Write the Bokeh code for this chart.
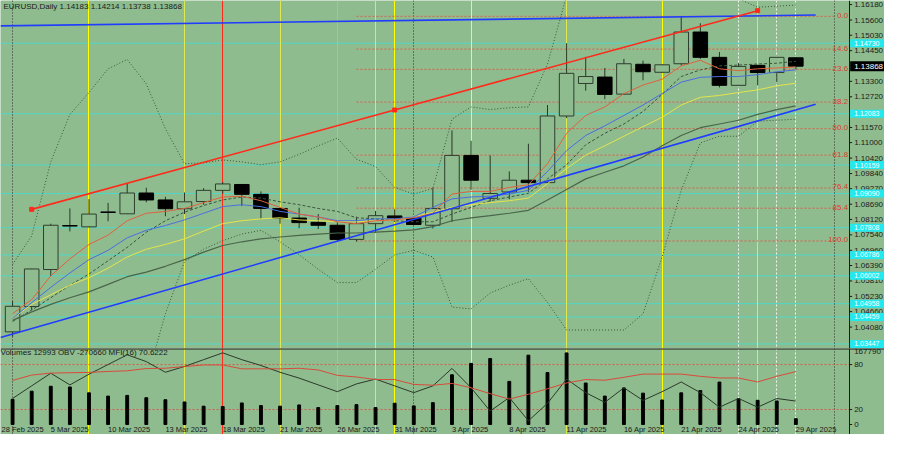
from bokeh.plotting import figure
from bokeh.layouts import column
from bokeh.models import Range1d, Span
from bokeh.core.properties import value
from bokeh.embed import file_html
from bokeh.resources import INLINE

BG = "#8fbc8f"
FONT = "Liberation Sans"
DARK = "#1a1a1a"

# ---------------- data ----------------
bars = list(range(42))
opens = [1.0390, 1.0485, 1.0624, 1.0789, 1.0784, 1.0840, 1.0833, 1.0911, 1.0885, 1.0852,
         1.0879, 1.0921, 1.0943, 1.0906, 1.0853, 1.0817, 1.0801, 1.0790, 1.0737, 1.0796,
         1.0825, 1.0817, 1.0790, 1.0852, 1.1052, 1.0891, 1.0915, 1.0959, 1.0950, 1.1200,
         1.1322, 1.1346, 1.1282, 1.1394, 1.1364, 1.1396, 1.1515, 1.1420, 1.1315, 1.1390,
         1.1363, 1.14183]
highs = [1.0505, 1.0627, 1.0796, 1.0853, 1.0888, 1.0874, 1.0945, 1.0931, 1.0897, 1.0913,
         1.0929, 1.0952, 1.0945, 1.0917, 1.0856, 1.0856, 1.0832, 1.0804, 1.0822, 1.0844,
         1.0850, 1.0820, 1.0931, 1.1146, 1.1107, 1.1052, 1.0992, 1.1096, 1.1241, 1.1473,
         1.1422, 1.1380, 1.1414, 1.1408, 1.1394, 1.1574, 1.1548, 1.1440, 1.1398, 1.1392,
         1.1422, 1.14214]
lows = [1.0372, 1.0472, 1.0600, 1.0767, 1.0782, 1.0805, 1.0832, 1.0876, 1.0824, 1.0832,
        1.0867, 1.0909, 1.0862, 1.0814, 1.0796, 1.0779, 1.0776, 1.0731, 1.0729, 1.0761,
        1.0802, 1.0791, 1.0778, 1.0802, 1.0923, 1.0879, 1.0888, 1.0915, 1.0948, 1.1192,
        1.1295, 1.1263, 1.1280, 1.1334, 1.1362, 1.1390, 1.1414, 1.1307, 1.1313, 1.1315,
        1.1327, 1.13738]
closes = [1.0486, 1.0626, 1.0790, 1.0787, 1.0832, 1.0838, 1.0911, 1.0885, 1.0852, 1.0878,
          1.0921, 1.0945, 1.0906, 1.0853, 1.0817, 1.0800, 1.0790, 1.0737, 1.0796, 1.0826,
          1.0817, 1.0793, 1.0853, 1.1052, 1.0959, 1.0909, 1.0959, 1.0950, 1.1200, 1.1360,
          1.1348, 1.1281, 1.1396, 1.1366, 1.1392, 1.1515, 1.1420, 1.1315, 1.1386, 1.1363,
          1.1420, 1.13868]

ma_red = [1.0458, 1.0511, 1.0600, 1.0664, 1.0718, 1.0753, 1.0807, 1.0835, 1.0842, 1.0853,
          1.0875, 1.0896, 1.0899, 1.0882, 1.0857, 1.0832, 1.0821, 1.0803, 1.0796, 1.0807,
          1.0810, 1.0818, 1.0835, 1.0907, 1.0917, 1.0917, 1.0932, 1.0942, 1.1021, 1.1135,
          1.1202, 1.1234, 1.1284, 1.1316, 1.1338, 1.1388, 1.1409, 1.1377, 1.1370, 1.1377,
          1.1380, 1.1384]
ma_blue = [1.0440, 1.0500, 1.0557, 1.0611, 1.0661, 1.0696, 1.0743, 1.0771, 1.0789, 1.0810,
           1.0835, 1.0860, 1.0867, 1.0860, 1.0842, 1.0832, 1.0821, 1.0807, 1.0807, 1.0814,
           1.0814, 1.0821, 1.0857, 1.0889, 1.0896, 1.0899, 1.0907, 1.0921, 1.0992, 1.1070,
           1.1127, 1.1163, 1.1202, 1.1241, 1.1284, 1.1327, 1.1345, 1.1348, 1.1348, 1.1355,
           1.1366, 1.1373]
ma_yellow = [1.0440, 1.0493, 1.0529, 1.0565, 1.0593, 1.0629, 1.0671, 1.0700, 1.0718, 1.0739,
             1.0768, 1.0796, 1.0807, 1.0814, 1.0818, 1.0810, 1.0807, 1.0803, 1.0803, 1.0807,
             1.0810, 1.0821, 1.0839, 1.0857, 1.0867, 1.0875, 1.0882, 1.0892, 1.0946, 1.1003,
             1.1053, 1.1088, 1.1124, 1.1160, 1.1195, 1.1241, 1.1270, 1.1277, 1.1288, 1.1298,
             1.1313, 1.1323]
ma_grey = [1.0433, 1.0465, 1.0493, 1.0518, 1.0540, 1.0568, 1.0597, 1.0614, 1.0636, 1.0661,
           1.0689, 1.0714, 1.0728, 1.0739, 1.0746, 1.0752, 1.0757, 1.0761, 1.0761, 1.0764,
           1.0768, 1.0773, 1.0785, 1.0807, 1.0818, 1.0826, 1.0835, 1.0846, 1.0885, 1.0924,
           1.0964, 1.0989, 1.1013, 1.1046, 1.1088, 1.1127, 1.1156, 1.1170, 1.1184, 1.1206,
           1.1224, 1.1238]
bb_mid = [1.0429, 1.0472, 1.0518, 1.0565, 1.0607, 1.0657, 1.0707, 1.0764, 1.0807, 1.0839,
          1.0864, 1.0885, 1.0896, 1.0892, 1.0878, 1.0867, 1.0853, 1.0842, 1.0818, 1.0814,
          1.0807, 1.0803, 1.0803, 1.0832, 1.0857, 1.0882, 1.0896, 1.0910, 1.0964, 1.1017,
          1.1092, 1.1135, 1.1170, 1.1217, 1.1281, 1.1348, 1.1373, 1.1388, 1.1391, 1.1395,
          1.1398, 1.1405]
bb_upper = [1.0643, 1.0750, 1.1028, 1.1206, 1.1288, 1.1377, 1.1412, 1.1320, 1.1152, 1.1021,
            1.1024, 1.1035, 1.1028, 1.1017, 1.1028, 1.1056, 1.1088, 1.1117, 1.1038, 1.1010,
            1.0932, 1.0907, 1.0928, 1.1188, 1.1234, 1.1224, 1.1231, 1.1234, 1.1395, 1.1651,
            1.1787, 1.1872, 1.1943, 1.1975, 1.1890, 1.1776, 1.1651, 1.1651, 1.1640, 1.1608,
            1.1612, 1.1616]
bb_lower = [1.0215, 1.0194, 1.0009, 0.9923, 0.9927, 0.9938, 1.0002, 1.0208, 1.0458, 1.0654,
            1.0700, 1.0732, 1.0757, 1.0771, 1.0728, 1.0679, 1.0625, 1.0575, 1.0575, 1.0625,
            1.0679, 1.0696, 1.0671, 1.0483, 1.0476, 1.0536, 1.0565, 1.0590, 1.0500, 1.0397,
            1.0397, 1.0397, 1.0397, 1.0458, 1.0671, 1.0921, 1.1099, 1.1124, 1.1124, 1.1181,
            1.1184, 1.1188]

volumes = [56000, 74090, 84980, 83460, 70380, 63190, 64720, 59490, 55130, 50120,
           40750, 39880, 47940, 42060, 40750, 43580, 37700, 42060, 44240, 37700,
           47290, 41400, 48590, 110480, 135760, 146650, 95880, 154060, 115490, 159070,
           92180, 63190, 81280, 69730, 54480, 70380, 75610, 94350, 57310, 53820,
           52300, 12993]
obv = [-253380, -170180, -86980, -163780, -93380, -29380, 34620, -10180, -80580, -42180,
       2620, 47420, 2620, -35780, -80580, -118980, -163780, -208580, -157380, -125380,
       -170180, -214980, -170180, -54980, -182980, -336580, -246980, -400580, -285380, -125380,
       -214980, -278980, -182980, -266180, -208580, -144580, -214980, -310980, -253380, -310980,
       -253380, -270660]
mfi = [58.8, 66.0, 68.6, 69.1, 69.5, 70.8, 71.7, 74.7, 75.1, 77.3,
       79.5, 79.5, 74.3, 74.3, 74.3, 75.1, 72.8, 65.6, 63.4, 60.0,
       60.0, 53.5, 52.5, 54.8, 49.0, 41.2, 33.9, 40.4, 47.7, 55.5,
       60.0, 59.1, 63.0, 67.3, 67.3, 67.3, 64.3, 62.1, 62.1, 56.8,
       64.3, 70.6222]

header_main = "EURUSD,Daily  1.14183 1.14214 1.13738 1.13868"
header_sub = "Volumes 12993  OBV -270660  MFI(16) 70.6222"

price_ticks = [1.16180, 1.15600, 1.15030, 1.14450, 1.13300, 1.12720, 1.11570, 1.11000,
               1.10420, 1.09840, 1.09270, 1.08690, 1.08120, 1.07540, 1.06960, 1.06390,
               1.05810, 1.05230, 1.04660, 1.04080]
cyan_levels = [1.14730, 1.12083, 1.10159, 1.09090, 1.07808, 1.06786, 1.06002, 1.04958,
               1.04459, 1.03447]
last_price = 1.13868

fib_levels = [0.0, 14.6, 23.6, 38.2, 50.0, 61.8, 76.4, 85.4, 100.0]
fib_high, fib_low = 1.1574, 1.0731
fib_start_bar, fib_end_bar = 18, 43

red_channel_bars = [1, 20, 39]
red_channel_prices = [1.08496, 1.12224, 1.15952]
blue_top_bars = [-0.632, 42.04]
blue_top_prices = [1.15382, 1.15788]
blue_sup_bars = [-0.632, 42.04]
blue_sup_prices = [1.03686, 1.12439]

vl_yellow_bright = [4, 20, 24, 34]
vl_yellow_pale = [9, 14, 19, 29, 39]
vl_red = [11]
vl_cyan = [17]
vl_dark_dotted = [0, 21, 43]
vl_white_dotted = [38, 40, 41]

date_bars = [-1, 2, 5, 8, 11, 14, 17, 20, 23, 26, 29, 32, 35, 38, 41]
date_labels = ["28 Feb 2025", "5 Mar 2025", "10 Mar 2025", "13 Mar 2025", "18 Mar 2025",
               "21 Mar 2025", "26 Mar 2025", "31 Mar 2025", "3 Apr 2025", "8 Apr 2025",
               "11 Apr 2025", "16 Apr 2025", "21 Apr 2025", "24 Apr 2025", "29 Apr 2025"]

mfi_levels = [20, 80]
mfi_ticks = [0, 20, 80]
vol_axis_max = 167790

# ---------------- scales ----------------
X0, XA, XR = -0.632, 43.79, 45.64       # left edge, price-axis line, right edge (bar units)
PX = 1.0 / 19.11                        # one screen pixel in bar units
xr = Range1d(X0, XR)
P_LO, P_HI = 1.03276, 1.16333
M_LO, M_HI = -13.3, 101.43
k_vol = vol_axis_max / 100.78


def base_fig(h, yr):
    p = figure(width=884, height=h, x_range=xr, y_range=yr, output_backend="svg",
               toolbar_location=None, x_axis_location=None, y_axis_location=None,
               min_border_left=0, min_border_right=0, min_border_top=0,
               min_border_bottom=0, background_fill_color=BG, border_fill_color=BG,
               outline_line_color=None)
    p.grid.visible = False
    return p


def vlines(p):
    p.vspan(x=vl_yellow_pale, line_color="#e0e850", line_width=1)
    p.vspan(x=vl_yellow_bright, line_color="#ffff00", line_width=1)
    p.vspan(x=vl_red, line_color="#ff2a1a", line_width=1)
    p.vspan(x=vl_cyan, line_color="#40e8e8", line_width=1)
    p.vspan(x=vl_white_dotted, line_color="#f4f4f4", line_width=1, line_dash="2 2")
    p.vspan(x=vl_dark_dotted, line_color="#2a2a2a", line_width=1, line_dash="1 2")


def price_axis(p, ticks, labels, range_name="default"):
    n = len(ticks)
    p.segment(x0=[XA] * n, y0=ticks, x1=[XA + 3 * PX] * n, y1=ticks, line_color=DARK,
              line_width=1, y_range_name=range_name)
    p.text(x=[XA + 5 * PX] * n, y=ticks, text=labels, text_align="left",
           text_baseline="middle", text_font=value(FONT), text_font_size="8px",
           text_color=DARK, y_range_name=range_name)


# ---------------- main pane ----------------
p1 = base_fig(348, Range1d(P_LO, P_HI))

nc = len(cyan_levels)
p1.segment(x0=[X0] * nc, y0=cyan_levels, x1=[XA] * nc, y1=cyan_levels,
           line_color="#4fd8c8", line_width=1)
vlines(p1)

fib_prices = [fib_high - (fib_high - fib_low) * lv / 100.0 for lv in fib_levels]
nf = len(fib_prices)
p1.segment(x0=[fib_start_bar] * nf, y0=fib_prices, x1=[fib_end_bar] * nf, y1=fib_prices,
           line_color="#e05a4a", line_dash="2 2", line_width=1)
p1.text(x=[XA - PX] * nf, y=fib_prices, text=["%.1f" % lv for lv in fib_levels],
        text_align="right", text_baseline="middle", y_offset=-1,
        text_font=value(FONT), text_font_size="8px", text_color="#e03a2a")

# candles
tops = [max(o, c) for o, c in zip(opens, closes)]
bottoms = [min(o, c) for o, c in zip(opens, closes)]
fills = ["#000000" if c < o else BG for o, c in zip(opens, closes)]
outlines = ["#000000" if c < o else "#2e3e2e" for o, c in zip(opens, closes)]
p1.segment(x0=bars, y0=lows, x1=bars, y1=highs, line_color="#283828", line_width=1)
p1.vbar(x=bars, width=0.76, top=tops, bottom=bottoms, fill_color=fills,
        line_color=outlines, line_width=1)

# bollinger bands
p1.line(bars, bb_upper, line_color="#3a553a", line_dash="1 2", line_width=1)
p1.line(bars, bb_lower, line_color="#3a553a", line_dash="1 2", line_width=1)
p1.line(bars, bb_mid, line_color="#3a553a", line_dash="3 2", line_width=1)

# moving averages
p1.line(bars, ma_grey, line_color="#4a654a", line_width=1.2)
p1.line(bars, ma_yellow, line_color="#e4e44a", line_width=1)
p1.line(bars, ma_blue, line_color="#4a6ee0", line_width=1)
p1.line(bars, ma_red, line_color="#e0603e", line_width=1)

# trend lines
p1.line(blue_top_bars, blue_top_prices, line_color="#1f3cff", line_width=1.6)
p1.line(blue_sup_bars, blue_sup_prices, line_color="#1f3cff", line_width=1.6)
p1.line([red_channel_bars[0], red_channel_bars[-1]],
        [red_channel_prices[0], red_channel_prices[-1]], line_color="#ff2a1a", line_width=1.6)
p1.scatter(x=red_channel_bars, y=red_channel_prices, marker="square", size=4,
           fill_color="#ff2a1a", line_color="#ff2a1a")

p1.text(x=[X0 + 3 * PX], y=[P_HI], text=[header_main], text_align="left",
        text_baseline="top", y_offset=1, text_font=value(FONT), text_font_size="8px",
        text_color=DARK)

# right price scale
p1.vspan(x=[XA], line_color=DARK, line_width=1)
price_axis(p1, price_ticks, ["%.5f" % t for t in price_ticks])
box_w = XR - XA - PX
p1.rect(x=[XA + PX + box_w / 2] * nc, y=cyan_levels, width=box_w, height=8,
        height_units="screen", fill_color="#22e8f0", line_color=None)
p1.text(x=[XA + 5 * PX] * nc, y=cyan_levels, text=["%.5f" % v for v in cyan_levels],
        text_align="left", text_baseline="middle", text_font=value(FONT),
        text_font_size="7px", text_color="#ffffff")
p1.rect(x=[XA + PX + box_w / 2], y=[last_price], width=box_w, height=10,
        height_units="screen", fill_color="#000000", line_color=None)
p1.text(x=[XA + 5 * PX], y=[last_price], text=["%.5f" % last_price], text_align="left",
        text_baseline="middle", text_font=value(FONT), text_font_size="8px",
        text_color="#ffffff")

# ---------------- lower pane ----------------
p2 = base_fig(86, Range1d(M_LO, M_HI))
p2.extra_y_ranges = {"vol": Range1d(M_LO * k_vol, M_HI * k_vol),
                     "obv": Range1d(-491000, 76220)}

vlines(p2)
nl = len(mfi_levels)
p2.segment(x0=[X0] * nl, y0=mfi_levels, x1=[XA] * nl, y1=mfi_levels,
           line_color="#d85a4a", line_dash="2 2", line_width=1)
p2.vbar(x=bars, width=0.15, top=volumes, bottom=0, y_range_name="vol",
        fill_color="#000000", line_color="#000000")
p2.line(bars, obv, y_range_name="obv", line_color="#2a3a2a", line_width=1)
p2.line(bars, mfi, line_color="#d84a3a", line_width=1)
p2.add_layout(Span(location=M_HI, dimension="width", line_color=DARK, line_width=2))

p2.text(x=[X0], y=[96.5], text=[header_sub], text_align="left", text_baseline="middle",
        text_font=value(FONT), text_font_size="8px", text_color=DARK)
p2.text(x=[max(b, X0 + PX) for b in date_bars], y=[-0.8] * len(date_bars), text=date_labels,
        text_align="left", text_baseline="top", text_font=value(FONT),
        text_font_size="7.5px", text_color=DARK)

p2.vspan(x=[XA], line_color=DARK, line_width=1)
price_axis(p2, mfi_ticks, [str(t) for t in mfi_ticks])
p2.text(x=[XA + 5 * PX], y=[vol_axis_max], text=[str(vol_axis_max)], text_align="left",
        text_baseline="top", text_font=value(FONT), text_font_size="8px",
        text_color=DARK, y_range_name="vol")

layout = column(p1, p2, spacing=0)
open("out.html", "w").write(file_html(layout, INLINE))
